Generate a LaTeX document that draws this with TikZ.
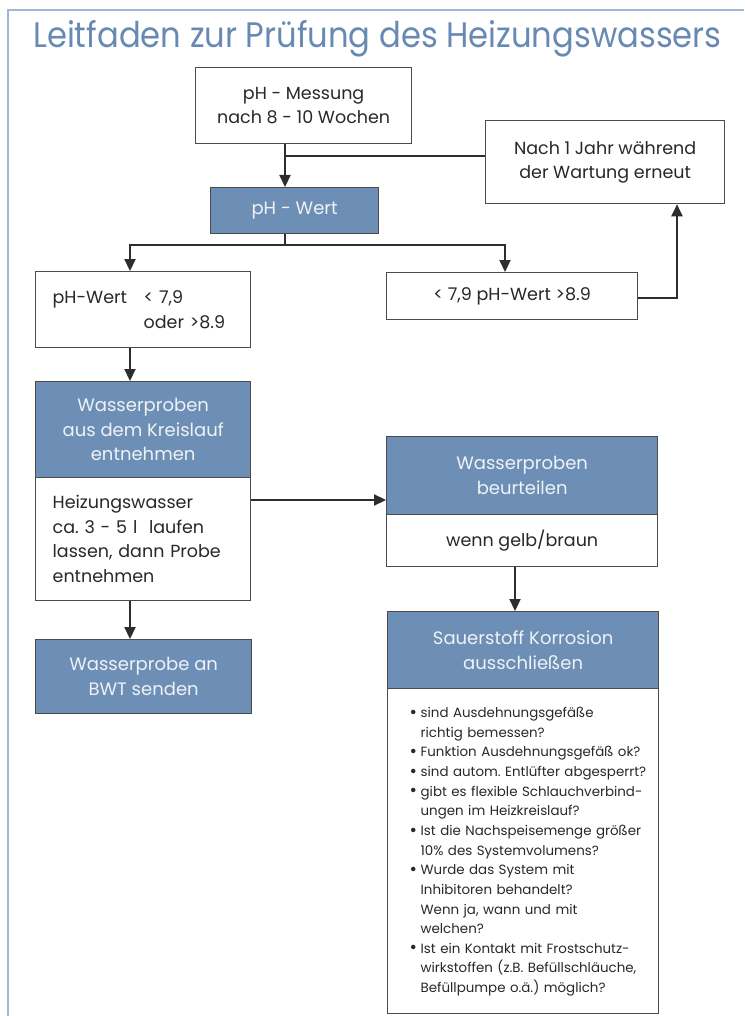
\documentclass[tikz,border=0pt]{standalone}
\usepackage{fontspec}
\setmainfont{Poppins}
\usetikzlibrary{positioning, arrows.meta}
\frenchspacing

\definecolor{boxblue}{RGB}{110,143,181}
\definecolor{titleblue}{RGB}{104,138,178}
\definecolor{frameblue}{RGB}{160,185,214}
\definecolor{boxline}{RGB}{75,75,75}
\definecolor{flowline}{RGB}{45,45,45}
\definecolor{ink}{RGB}{40,40,40}
\definecolor{boxtext}{RGB}{238,242,247}

\newcommand{\bul}{\makebox[11pt][l]{\raisebox{-0.6pt}{\scalebox{1.35}{\textbullet}}}}
\newcommand{\ein}{\hspace*{11pt}}

\begin{document}
\begin{tikzpicture}[
    x=1pt, y=-1pt, >={Triangle[length=12pt,width=11pt]},
    wbox/.style={draw=boxline, line width=1.3pt, fill=white, inner sep=0pt,
        anchor=north west, text=ink, align=center, font=\fontsize{17.5}{24.5}\selectfont},
    bbox/.style={wbox, fill=boxblue, text=boxtext, font=\fontsize{18}{24.5}\selectfont},
    lbox/.style={wbox, align=left, inner xsep=#1},
    flow/.style={->, draw=flowline, line width=2.2pt},
    feed/.style={draw=flowline, line width=2.2pt}
]
    \useasboundingbox (0,0) rectangle (744,1016);

    % Rahmen und Titel
    \draw[frameblue, line width=1.8pt] (8,1016) -- (8,10) -- (744,10);
    \node[anchor=base west, text=titleblue, inner sep=0pt,
        font=\fontsize{32.2}{40}\selectfont] (titel) at (33,48)
        {\scalebox{1}[1.1]{Leitfaden zur Prüfung des Heizungswassers}};

    % Knoten
    \node[wbox, minimum width=216, minimum height=76] (messung) at (195,67)
        {pH - Messung\\nach 8 - 10 Wochen};
    \node[wbox, minimum width=239, minimum height=83] (nachjahr) at (485,120)
        {Nach 1 Jahr während\\der Wartung erneut};
    \node[bbox, minimum width=168, minimum height=46] (phwert) at (210,187)
        {pH - Wert};
    \node[lbox=17, text width=181, minimum height=76] (links) at (35,271)
        {\makebox[91pt][l]{pH-Wert}< 7,9\\\hspace*{91pt}oder >8.9};
    \node[wbox, minimum width=251, minimum height=47] (rechts) at (386,272)
        {< 7,9 pH-Wert >8.9};

    \node[bbox, minimum width=215, minimum height=96] (probenA) at (35,381)
        {Wasserproben\\aus dem Kreislauf\\entnehmen};
    \node[lbox=17, text width=181, minimum height=123] (probenB) at (35,477)
        {Heizungswasser\\ca. 3 - 5 l \ laufen\\lassen, dann Probe\\entnehmen};
    \node[bbox, minimum width=216, minimum height=74] (bwt) at (35,639)
        {Wasserprobe an\\BWT senden};

    \node[bbox, minimum width=271, minimum height=78] (beurteilen) at (386,436)
        {Wasserproben\\beurteilen};
    \node[wbox, minimum width=271, minimum height=52] (gelb) at (386,514)
        {wenn gelb/braun};
    \node[bbox, minimum width=271, minimum height=77] (sauer) at (387,611)
        {Sauerstoff Korrosion\\ausschließen};
    \node[lbox=22, text width=227, minimum height=325,
        font=\fontsize{13.4}{19.64}\selectfont] (fragen) at (387,688)
        {\renewcommand{\arraystretch}{1}%
        \begin{tabular}{@{}l@{}}
        \bul sind Ausdehnungsgefäße\\
        \ein richtig bemessen?\\
        \bul Funktion Ausdehnungsgefäß ok?\\
        \bul sind autom. Entlüfter abgesperrt?\\
        \bul gibt es flexible Schlauchverbind-\\
        \ein ungen im Heizkreislauf?\\
        \bul Ist die Nachspeisemenge größer\\
        \ein 10\% des Systemvolumens?\\
        \bul Wurde das System mit\\
        \ein Inhibitoren behandelt?\\
        \ein Wenn ja, wann und mit\\
        \ein welchen?\\
        \bul Ist ein Kontakt mit Frostschutz-\\
        \ein wirkstoffen (z.B. Befüllschläuche,\\
        \ein Befüllpumpe o.ä.) möglich?
        \end{tabular}};

    % Verbindungen
    \coordinate (stamm) at (285,156);
    \coordinate (gabel) at (285,245);
    \coordinate (lspur) at (130,245);
    \coordinate (rspur) at (505,245);
    \coordinate (rueck) at (677,298);
    \coordinate (quer) at (250,500);
    \coordinate (rmitte) at (515,566);

    \draw[flow] (messung.south -| stamm) -- (phwert.north -| stamm);
    \draw[feed] (stamm) -- (nachjahr.west |- stamm);
    \draw[feed] (phwert.south -| gabel) -- (gabel);
    \draw[flow] (gabel) -| (links.north -| lspur);
    \draw[flow] (gabel) -| (rechts.north -| rspur);
    \draw[flow] (rechts.east |- rueck) -| (nachjahr.south -| rueck);

    \draw[flow] (links.south -| lspur) -- (probenA.north -| lspur);
    \draw[flow] (probenB.south -| lspur) -- (bwt.north -| lspur);
    \draw[flow] (probenB.east |- quer) -- (beurteilen.west |- quer);
    \draw[flow] (gelb.south -| rmitte) -- (sauer.north -| rmitte);

\end{tikzpicture}
\end{document}
